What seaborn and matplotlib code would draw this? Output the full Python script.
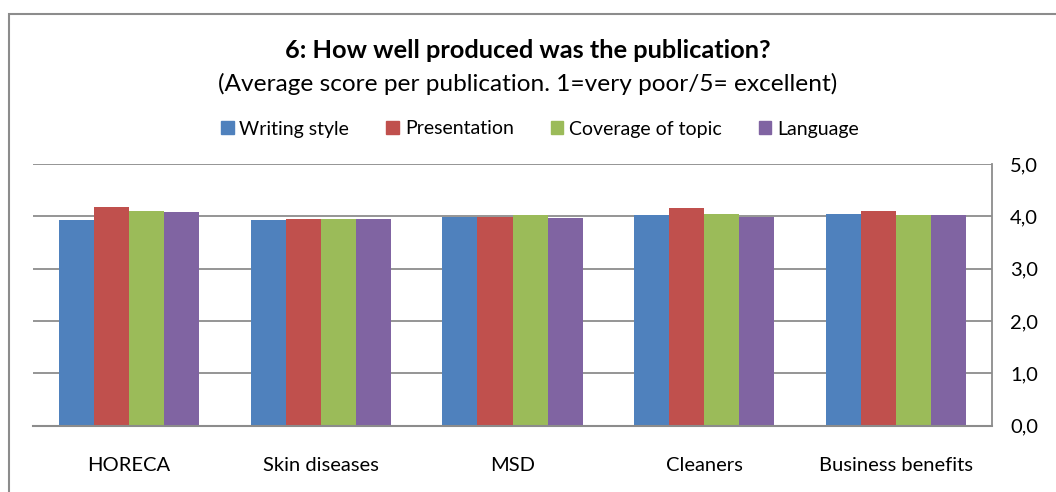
import matplotlib
matplotlib.use("Agg")
import matplotlib.pyplot as plt
import seaborn as sns
import pandas as pd
from matplotlib.patches import Rectangle
from matplotlib.ticker import FuncFormatter

categories = ["HORECA", "Skin diseases", "MSD", "Cleaners", "Business benefits"]
series_names = ["Writing style", "Presentation", "Coverage of topic", "Language"]
writing_style = [3.92, 3.92, 3.98, 4.02, 4.05]
presentation = [4.18, 3.95, 3.98, 4.15, 4.11]
coverage = [4.11, 3.95, 4.02, 4.05, 4.02]
language = [4.08, 3.95, 3.96, 3.98, 4.02]
colors = ["#4F81BD", "#C0504D", "#9BBB59", "#8064A2"]
y_ticks = [0, 1, 2, 3, 4, 5]

sns.set_theme(style="white")
plt.rcParams["font.family"] = ["Lato", "DejaVu Sans"]
plt.rcParams["text.color"] = "#000000"

rows = []
for name, vals in zip(series_names, [writing_style, presentation, coverage, language]):
    for c, v in zip(categories, vals):
        rows.append({"Publication": c, "Aspect": name, "Score": v})
df = pd.DataFrame(rows)

fig = plt.figure(figsize=(10.56, 4.92), dpi=100)
ax = fig.add_axes([33 / 1056, 1 - 425.5 / 492, (992 - 33) / 1056, (425.5 - 164) / 492])

sns.barplot(data=df, x="Publication", y="Score", hue="Aspect", order=categories,
            hue_order=series_names, palette=colors, width=0.73, ax=ax,
            saturation=1, legend=False, linewidth=0)

ax.set_ylim(0, 5)
ax.set_yticks(y_ticks)
ax.yaxis.set_major_formatter(FuncFormatter(lambda v, p: f"{v:.1f}".replace(".", ",")))
ax.yaxis.tick_right()
ax.tick_params(axis="y", length=0, pad=13, labelsize=14.5, colors="#000000")
ax.tick_params(axis="x", length=0, pad=23, labelsize=14.5, colors="#000000")
ax.set_xlabel("")
ax.set_ylabel("")
ax.grid(axis="y", color="#8c8c8c", linewidth=1.3)
ax.set_axisbelow(True)
for s in ["top", "left"]:
    ax.spines[s].set_visible(False)
ax.spines["right"].set_color("#8c8c8c")
ax.spines["bottom"].set_color("#8c8c8c")
ax.spines["right"].set_linewidth(1.3)
ax.spines["bottom"].set_linewidth(1.5)

# outer chart frame
fig.patches.append(Rectangle((9 / 1056, -0.05), 1.2, 1 - 14 / 492 + 0.05,
                             transform=fig.transFigure, fill=False,
                             edgecolor="#8c8c8c", linewidth=1.5))

fig.text(0.5, 1 - 51 / 492, "6: How well produced was the publication?",
         ha="center", va="center", fontsize=18.3, fontweight="bold")
fig.text(0.5, 1 - 84 / 492, "(Average score per publication. 1=very poor/5= excellent)",
         ha="center", va="center", fontsize=17.6)

handles = [Rectangle((0, 0), 1, 1, color=c) for c in colors]
fig.legend(handles, series_names, loc="center", bbox_to_anchor=(540 / 1056, 1 - 129 / 492),
           ncol=4, frameon=False, fontsize=14, handlelength=0.65, handleheight=0.65,
           handletextpad=0.3, columnspacing=1.9)

fig.savefig("out.png", dpi=100)
